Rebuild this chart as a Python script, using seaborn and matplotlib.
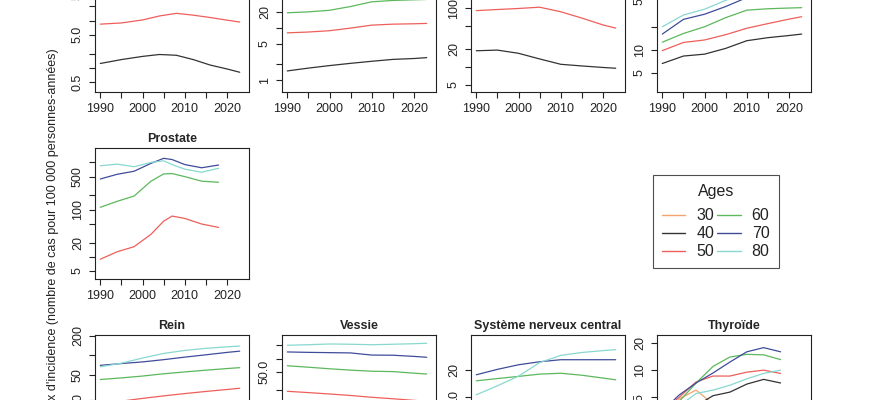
import pandas as pd
import matplotlib
matplotlib.use("Agg")
import matplotlib.pyplot as plt
from matplotlib.ticker import FixedLocator, FixedFormatter, NullLocator
from matplotlib.lines import Line2D
import seaborn as sns

# ---- data ----
ages = ["30", "40", "50", "60", "70", "80"]
age_colors = ["#F4A36C", "#333333", "#EE5F5B", "#5CB85C", "#3F4C9A", "#88D8D0"]

years_std = [1990, 1995, 2000, 2005, 2010, 2015, 2020, 2023]

# top row, column 1 (title cut off)
years_a = [1990, 1995, 2000, 2004, 2008, 2012, 2016, 2020, 2023]
panel_a = {
    "40": [1.24, 1.5, 1.75, 1.92, 1.85, 1.5, 1.15, 0.95, 0.81],
    "50": [8.4, 8.9, 10.3, 12.5, 14.2, 13.0, 11.6, 10.2, 9.3],
}

# top row, column 2
panel_b = {
    "40": [1.5, 1.7, 1.9, 2.1, 2.3, 2.5, 2.6, 2.7],
    "50": [8.1, 8.4, 8.9, 10.0, 11.4, 11.9, 12.1, 12.3],
    "60": [19.7, 20.5, 22.0, 26.0, 32.0, 34.0, 35.0, 35.5],
}

# top row, column 3
panel_c = {
    "40": [19.0, 19.5, 17.2, 13.8, 11.2, 10.5, 9.9, 9.6],
    "50": [91, 95, 99, 104, 87, 68, 52, 46],
}

# top row, column 4
panel_d = {
    "40": [6.6, 8.3, 8.8, 10.5, 13.3, 14.6, 15.6, 16.3],
    "50": [9.8, 12.6, 13.6, 16.0, 19.5, 22.5, 25.8, 27.8],
    "60": [12.7, 16.6, 20.4, 27.0, 34.0, 35.5, 36.3, 36.7],
    "70": [16.3, 25.6, 30.0, 38.0, 50.0, 58.0, 64.0, 68.0],
    "80": [20.4, 29.3, 35.0, 46.0, 58.0, 66.0, 74.0, 80.0],
}

# Prostate
years_prostate = [1990, 1994, 1998, 2002, 2005, 2007, 2010, 2014, 2018]
prostate = {
    "50": [8.9, 12.8, 16.4, 30, 57, 73, 65, 49.5, 42],
    "60": [112, 150, 194, 400, 570, 580, 500, 400, 380],
    "70": [445, 560, 650, 955, 1220, 1150, 900, 770, 880],
    "80": [850, 920, 810, 1000, 1080, 900, 720, 620, 750],
}

# Rein
rein = {
    "50": [17.5, 19.5, 21.5, 23.5, 25.5, 27.5, 29.5, 30.8],
    "60": [42, 44.5, 47.5, 51.5, 55, 58.5, 62, 64],
    "70": [69.5, 74, 78.5, 85, 93, 101, 110, 115],
    "80": [66, 75, 90, 106, 118, 127, 134, 138],
}

# Vessie
vessie = {
    "50": [18.4, 17.2, 16.0, 14.8, 13.5, 12.5, 11.5, 11.0],
    "60": [69, 64, 59, 55, 52, 51, 47, 45],
    "70": [141, 138, 136, 134, 120, 119, 112, 107],
    "80": [199, 205, 213, 210, 205, 210, 216, 221],
}

# Systeme nerveux central
snc = {
    "60": [15.1, 16.0, 16.9, 17.9, 18.3, 17.4, 16.2, 15.5],
    "70": [17.6, 20.2, 22.7, 24.5, 25.8, 25.8, 25.8, 25.8],
    "80": [10.6, 13.3, 17.0, 24.0, 28.8, 31.0, 32.5, 33.3],
}

# Thyroide
years_thyroide = [1990, 1994, 1998, 2002, 2006, 2010, 2014, 2018]
thyroide = {
    "30": [2.2, 4.8, 6.0, 4.2, 3.8, 3.6, 3.6, 3.5],
    "40": [2.5, 3.2, 4.0, 5.2, 5.7, 7.0, 7.9, 7.2],
    "50": [3.5, 5.0, 7.4, 8.6, 8.6, 9.5, 10.0, 9.2],
    "60": [3.0, 4.5, 7.2, 11.0, 14.0, 15.0, 14.8, 13.1],
    "70": [3.5, 5.3, 7.2, 9.3, 12.3, 16.0, 17.8, 16.0],
    "80": [3.0, 4.0, 5.5, 6.0, 6.8, 8.0, 9.2, 10.0],
}

x_ticks = [1990, 1995, 2000, 2005, 2010, 2015, 2020]
x_labels = ["1990", "", "2000", "", "2010", "", "2020"]

# (row, col, title, years, data, ylim, yticks, ytick labels)
panels = [
    (0, 0, "", years_a, panel_a, (0.31, 181),
     [0.5, 1, 2, 5, 10, 20, 50], ["0.5", "", "", "5.0", "", "", "50.0"]),
    (0, 1, "", years_std, panel_b, (0.59, 195),
     [1, 2, 5, 10, 20, 50, 100], ["1", "", "5", "", "20", "", "100"]),
    (0, 2, "", years_std, panel_c, (3.8, 631),
     [5, 10, 20, 50, 100, 200, 500], ["5", "", "20", "", "100", "", "500"]),
    (0, 3, "", years_std, panel_d, (2.75, 154),
     [5, 10, 20, 50, 100], ["5", "10", "", "50", ""]),
    (1, 0, "Prostate", years_prostate, prostate, (3.39, 2019),
     [5, 10, 20, 50, 100, 200, 500, 1000], ["5", "", "20", "", "100", "", "500", ""]),
    (2, 0, "Rein", years_std, rein, (1.95, 204),
     [5, 10, 20, 50, 100, 200], ["5", "", "20", "50", "", "200"]),
    (2, 1, "Vessie", years_std, vessie, (0.385, 339),
     [0.5, 1, 2, 5, 10, 20, 50, 100, 200], ["0.5", "", "", "5.0", "", "", "50.0", "", ""]),
    (2, 2, "Système nerveux central", years_std, snc, (1.74, 48.3),
     [2, 5, 10, 20], ["2", "5", "10", "20"]),
    (2, 3, "Thyroïde", years_thyroide, thyroide, (0.86, 24.6),
     [1, 2, 5, 10, 20], ["1", "2", "5", "10", "20"]),
]

# ---- style ----
sns.set_style("ticks")
plt.rcParams["font.family"] = ["Liberation Sans", "DejaVu Sans"]
plt.rcParams["axes.linewidth"] = 0.8

palette = dict(zip(ages, age_colors))

W, H = 883, 400
fig = plt.figure(figsize=(W / 100, H / 100), dpi=100)

col_left = [95, 282, 471, 657]
row_bottom = [92, 279, 466]
ax_w, ax_h = 154, 131

for row, col, title, years, data, ylim, yticks, ylabels in panels:
    ax = fig.add_axes([col_left[col] / W, 1 - row_bottom[row] / H, ax_w / W, ax_h / H])
    df = pd.DataFrame(
        [(y, v, age) for age, vals in data.items() for y, v in zip(years, vals)],
        columns=["year", "rate", "age"],
    )
    sns.lineplot(data=df, x="year", y="rate", hue="age", palette=palette,
                 estimator=None, legend=False, linewidth=0.9, ax=ax)
    ax.set_yscale("log")
    ax.set_xlim(1988.75, 2025.2)
    ax.set_ylim(*ylim)
    ax.xaxis.set_major_locator(FixedLocator(x_ticks))
    ax.xaxis.set_major_formatter(FixedFormatter(x_labels))
    ax.yaxis.set_major_locator(FixedLocator(yticks))
    ax.yaxis.set_major_formatter(FixedFormatter(ylabels))
    ax.yaxis.set_minor_locator(NullLocator())
    ax.tick_params(axis="both", direction="out", length=4, width=0.8,
                   labelsize=9, pad=4, colors="#222222")
    for lab in ax.get_yticklabels():
        lab.set_rotation(90)
        lab.set_va("center")
    ax.set_xlabel("")
    ax.set_ylabel("")
    for sp in ax.spines.values():
        sp.set_visible(True)
        sp.set_color("#222222")
    if title:
        ax.set_title(title, fontsize=9, fontweight="bold", pad=4.5)

fig.text(53 / W, 1 - 48 / H,
         "Taux d'incidence (nombre de cas pour 100 000 personnes-années)",
         rotation=90, ha="center", va="top", fontsize=9, color="#222222")

handles = [Line2D([], [], color=c, lw=1.0) for c in age_colors]
leg = fig.legend(handles, ages, ncol=2, title="Ages", loc="upper left",
                 bbox_to_anchor=(653 / W, 1 - 175 / H), fontsize=11.5,
                 title_fontsize=11.5, frameon=True, fancybox=False,
                 edgecolor="#222222", handlelength=1.45, handletextpad=0.7,
                 columnspacing=0.2, labelspacing=0.2, borderpad=0.56,
                 borderaxespad=0)
leg.get_frame().set_linewidth(0.8)
leg._legend_box.sep = 6.6  # a bit more room under the title
for t in leg.get_texts():
    t.set_color("#222222")
leg.get_title().set_color("#222222")

fig.savefig("out.png", dpi=100)
